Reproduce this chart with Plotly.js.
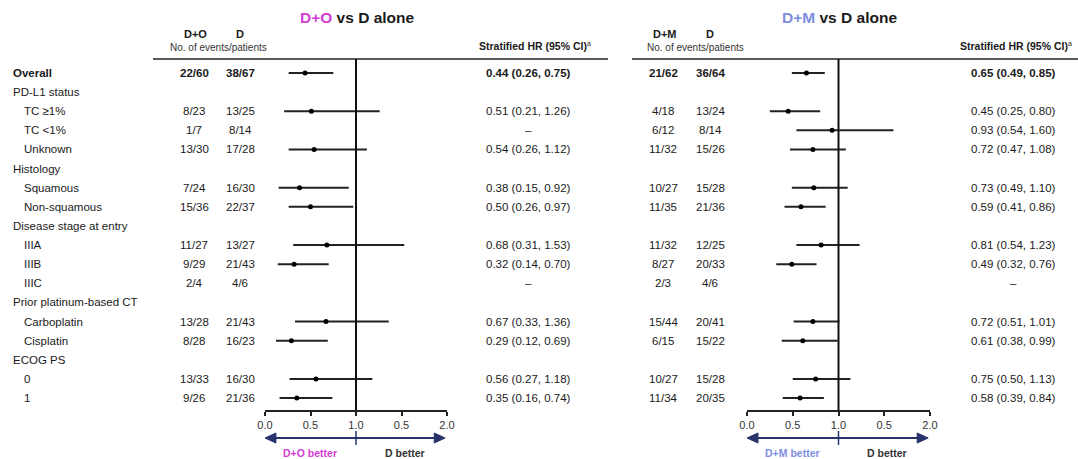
<!DOCTYPE html>
<html>
<head>
<meta charset="utf-8">
<script src="https://cdn.plot.ly/plotly-3.0.1.min.js"></script>
<style>html,body{margin:0;padding:0;background:#fff;}#chart{width:1078px;height:459px;}</style>
</head>
<body>
<div id="chart"></div>
<script>
// ---------- DATA ----------
const rowLabels = ["Overall","PD-L1 status","TC ≥1%","TC <1%","Unknown","Histology","Squamous","Non-squamous",
  "Disease stage at entry","IIIA","IIIB","IIIC","Prior platinum-based CT","Carboplatin","Cisplatin","ECOG PS","0","1"];
const rowIsHeader = [false,true,false,false,false,true,false,false,true,false,false,false,true,false,false,true,false,false];

// D+O vs D alone
const doEvents = ["22/60",null,"8/23","1/7","13/30",null,"7/24","15/36",null,"11/27","9/29","2/4",null,"13/28","8/28",null,"13/33","9/26"];
const dEventsO = ["38/67",null,"13/25","8/14","17/28",null,"16/30","22/37",null,"13/27","21/43","4/6",null,"21/43","16/23",null,"16/30","21/36"];
const hrO  = [0.44,null,0.51,null,0.54,null,0.38,0.50,null,0.68,0.32,null,null,0.67,0.29,null,0.56,0.35];
const loO  = [0.26,null,0.21,null,0.26,null,0.15,0.26,null,0.31,0.14,null,null,0.33,0.12,null,0.27,0.16];
const hiO  = [0.75,null,1.26,null,1.12,null,0.92,0.97,null,1.53,0.70,null,null,1.36,0.69,null,1.18,0.74];

// D+M vs D alone
const dmEvents = ["21/62",null,"4/18","6/12","11/32",null,"10/27","11/35",null,"11/32","8/27","2/3",null,"15/44","6/15",null,"10/27","11/34"];
const dEventsM = ["36/64",null,"13/24","8/14","15/26",null,"15/28","21/36",null,"12/25","20/33","4/6",null,"20/41","15/22",null,"15/28","20/35"];
const hrM  = [0.65,null,0.45,0.93,0.72,null,0.73,0.59,null,0.81,0.49,null,null,0.72,0.61,null,0.75,0.58];
const loM  = [0.49,null,0.25,0.54,0.47,null,0.49,0.41,null,0.54,0.32,null,null,0.51,0.38,null,0.50,0.39];
const hiM  = [0.85,null,0.80,1.60,1.08,null,1.10,0.86,null,1.23,0.76,null,null,1.01,0.99,null,1.13,0.84];

const tickVals = [0,0.5,1,1.5,2];
const tickText = ["0.0","0.5","1.0","0.5","2.0"];

// ---------- LAYOUT HELPERS ----------
const W = 1078, H = 459;
const px = x => x / W;
const py = y => 1 - y / H;
const FONT = "Liberation Sans, Arial, sans-serif";
const MAG = "#d43cd4", BLU = "#7d8ee0", NAVY = "#27336a", INK = "#1a1a1a";
const rowIdx = rowLabels.map((_, i) => i);

const rowTop = 73, rowStep = 19.12, axisY = 410, headY = 59;
const yBottom = (axisY - rowTop) / rowStep, yTop = (headY - rowTop) / rowStep;

function fmtHR(h, l, u) {
  return h == null ? "–" : h.toFixed(2) + " (" + l.toFixed(2) + ", " + u.toFixed(2) + ")";
}

function forest(hr, lo, hi, xa, ya) {
  return {
    type: "scatter", mode: "markers", x: hr, y: rowIdx, xaxis: xa, yaxis: ya,
    marker: {color: "#000", size: 5},
    error_x: {type: "data", symmetric: false,
      array: hr.map((h, i) => h == null ? null : hi[i] - h),
      arrayminus: hr.map((h, i) => h == null ? null : h - lo[i]),
      width: 0, thickness: 2, color: "#222"},
    hoverinfo: "skip", showlegend: false
  };
}

const traces = [forest(hrO, loO, hiO, "x", "y"), forest(hrM, loM, hiM, "x2", "y")];

const ann = [];
const txt = (text, x, y, opts = {}) => ann.push(Object.assign({
  text, x, y, xref: "paper", yref: "paper", showarrow: false, xanchor: "center", yanchor: "middle",
  font: {family: FONT, size: 11.5, color: INK}
}, opts));

// Row labels
rowLabels.forEach((lab, i) => {
  const indent = !rowIsHeader[i] && i !== 0;
  txt(i === 0 ? "<b>" + lab + "</b>" : lab, px(indent ? 22 : 11), i, {yref: "y", xanchor: "left"});
});

function panel(ev1, ev2, hr, lo, hi, c1, c2, hrx) {
  rowLabels.forEach((_, i) => {
    if (ev1[i] != null) {
      const b = i === 0 ? s => "<b>" + s + "</b>" : s => s;
      txt(b(ev1[i]), px(c1), i, {yref: "y"});
      txt(b(ev2[i]), px(c2), i, {yref: "y"});
      txt(b(fmtHR(hr[i], lo[i], hi[i])), px(hrx), i, {yref: "y"});
    }
  });
}
panel(doEvents, dEventsO, hrO, loO, hiO, 194, 240, 528);
panel(dmEvents, dEventsM, hrM, loM, hiM, 663, 710, 1013);

// Headers
const titleFont = {family: FONT, size: 15.5, color: INK};
txt('<b><span style="color:' + MAG + '">D+O</span> vs D alone</b>', px(357), py(18), {font: titleFont});
txt('<b><span style="color:' + BLU + '">D+M</span> vs D alone</b>', px(839), py(18), {font: titleFont});
const hb = {family: FONT, size: 11, color: INK};
const hs = {family: FONT, size: 10, color: "#333"};
txt("<b>D+O</b>", px(195), py(34), {font: hb});
txt("<b>D</b>", px(240), py(34), {font: hb});
txt("No. of events/patients", px(218), py(47), {font: hs});
txt("<b>D+M</b>", px(665), py(34), {font: hb});
txt("<b>D</b>", px(710), py(34), {font: hb});
txt("No. of events/patients", px(695), py(47), {font: hs});
const shf = {family: FONT, size: 10.5, color: INK};
txt("<b>Stratified HR (95% CI)</b>", px(589), py(46), {font: shf, xanchor: "right"});
txt("a", px(585), py(43), {font: {family: FONT, size: 7, color: INK}, xanchor: "left"});
txt("<b>Stratified HR (95% CI)</b>", px(1070), py(46), {font: shf, xanchor: "right"});
txt("a", px(1066), py(43), {font: {family: FONT, size: 7, color: INK}, xanchor: "left"});

// Better labels
const bf = c => ({family: FONT, size: 10.5, color: c});
txt("<b>D+O better</b>", px(310), py(453), {font: bf(MAG)});
txt("<b>D better</b>", px(405), py(453), {font: bf("#333")});
txt("<b>D+M better</b>", px(792), py(453), {font: bf(BLU)});
txt("<b>D better</b>", px(887), py(453), {font: bf("#333")});

const shapes = [];
const ln = (x0, y0, x1, y1, xref, yref, color, w) => shapes.push({type: "line", x0, y0, x1, y1, xref, yref, line: {color, width: w}});
// header rules
ln(px(153), py(59), px(608), py(59), "paper", "paper", "#222", 1.5);
ln(px(632), py(59), px(1078), py(59), "paper", "paper", "#222", 1.5);
// reference lines at HR = 1
ln(1, py(axisY), 1, py(headY), "x", "paper", "#111", 2);
ln(1, py(axisY), 1, py(headY), "x2", "paper", "#111", 2);

// Direction arrows
const arY = 438;
function arrows(xr) {
  ln(0.08, py(arY), 1.9, py(arY), xr, "paper", NAVY, 2);
  ln(1, py(431), 1, py(445), xr, "paper", NAVY, 1.5);
  shapes.push({type: "path", xref: xr, yref: "paper", fillcolor: NAVY, line: {color: NAVY, width: 1},
    path: `M 0,${py(arY)} L 0.12,${py(arY - 5)} L 0.12,${py(arY + 5)} Z`});
  shapes.push({type: "path", xref: xr, yref: "paper", fillcolor: NAVY, line: {color: NAVY, width: 1},
    path: `M 1.98,${py(arY)} L 1.86,${py(arY - 5)} L 1.86,${py(arY + 5)} Z`});
}
arrows("x"); arrows("x2");

const xax = dom => ({
  domain: dom, range: [0, 2], anchor: "y", showgrid: false, zeroline: false,
  showline: true, linecolor: "#222", linewidth: 2,
  ticks: "outside", ticklen: 4, tickwidth: 2, tickcolor: "#222",
  tickvals: tickVals, ticktext: tickText,
  tickfont: {family: FONT, size: 11, color: "#333"}, fixedrange: true
});

const layout = {
  width: W, height: H, margin: {l: 0, r: 0, t: 0, b: 0},
  paper_bgcolor: "#fff", plot_bgcolor: "rgba(0,0,0,0)", showlegend: false,
  xaxis: xax([px(265), px(447)]),
  xaxis2: xax([px(747), px(930)]),
  yaxis: {domain: [py(axisY), py(headY)], range: [yBottom, yTop], showgrid: false, zeroline: false,
    showticklabels: false, showline: false, ticks: "", fixedrange: true},
  annotations: ann, shapes: shapes
};

Plotly.newPlot("chart", traces, layout, {displayModeBar: false, staticPlot: true});
</script>
</body>
</html>
